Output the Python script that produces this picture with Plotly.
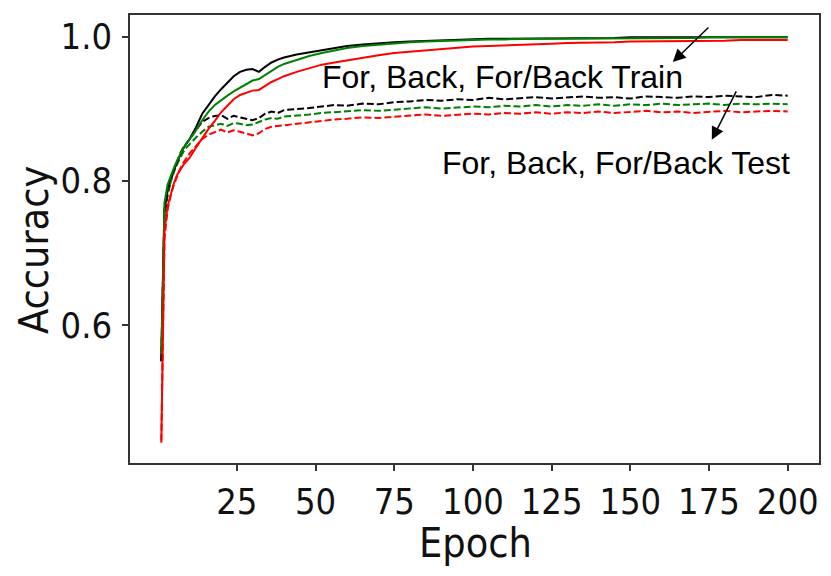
import plotly.graph_objects as go

epochs = [1, 2, 3, 4, 5, 6, 7, 8, 9, 10,
          12, 14, 16, 18, 20, 22, 24, 26, 28, 30, 32, 34, 36, 38, 40,
          44, 48, 52, 56, 60,
          65, 70, 75, 80, 85, 90, 95, 100, 105, 110, 115, 120, 125, 130,
          135, 140, 145, 150, 155, 160, 165, 170, 175, 180, 185, 190, 195, 200]

for_train = [0.550, 0.760, 0.790, 0.805, 0.815, 0.826, 0.836, 0.845, 0.852, 0.858,
             0.874, 0.893, 0.905, 0.917, 0.927, 0.936, 0.945, 0.951, 0.954, 0.955,
             0.951, 0.958, 0.964, 0.968, 0.971,
             0.975, 0.978, 0.982, 0.985, 0.987,
             0.989, 0.991, 0.992, 0.993, 0.994, 0.995, 0.996, 0.996, 0.997, 0.997,
             0.997, 0.998, 0.998, 0.998, 0.998, 0.998, 0.998, 0.999, 0.999, 0.999,
             0.999, 0.999, 0.999, 0.999, 0.999, 0.999, 0.999, 0.999]

back_train = [0.560, 0.770, 0.795, 0.808, 0.818, 0.828, 0.837, 0.845, 0.852, 0.858,
              0.870, 0.884, 0.896, 0.905, 0.912, 0.918, 0.924, 0.929, 0.934, 0.939,
              0.941, 0.947, 0.953, 0.958, 0.962,
              0.968, 0.973, 0.977, 0.981, 0.984,
              0.987, 0.989, 0.991, 0.992, 0.993, 0.994, 0.995, 0.996, 0.996, 0.996,
              0.997, 0.997, 0.997, 0.997, 0.998, 0.998, 0.998, 0.998, 0.998, 0.998,
              0.998, 0.998, 0.999, 0.999, 0.999, 0.999, 0.999, 0.999]

forback_train = [0.437, 0.730, 0.765, 0.783, 0.797, 0.808, 0.816, 0.822, 0.827, 0.832,
                 0.846, 0.859, 0.872, 0.883, 0.895, 0.904, 0.913, 0.919, 0.922, 0.925,
                 0.926, 0.932, 0.937, 0.941, 0.945,
                 0.951, 0.956, 0.961, 0.964, 0.967,
                 0.971, 0.974, 0.977, 0.979, 0.981, 0.983, 0.985, 0.986, 0.987, 0.988,
                 0.989, 0.990, 0.990, 0.991, 0.991, 0.992, 0.992, 0.993, 0.993, 0.993,
                 0.994, 0.994, 0.994, 0.994, 0.995, 0.995, 0.995, 0.995]

for_test = [0.550, 0.750, 0.780, 0.800, 0.815, 0.828, 0.838, 0.846, 0.852, 0.857,
            0.870, 0.882, 0.887, 0.890, 0.891, 0.886, 0.890, 0.888, 0.885, 0.884,
            0.887, 0.893, 0.896, 0.894, 0.898,
            0.899, 0.901, 0.903, 0.905, 0.904,
            0.907, 0.906, 0.909, 0.910, 0.912, 0.911, 0.913, 0.912, 0.915, 0.913,
            0.914, 0.916, 0.914, 0.915, 0.917, 0.915, 0.916, 0.914, 0.917, 0.916,
            0.915, 0.917, 0.916, 0.918, 0.917, 0.916, 0.919, 0.918]

back_test = [0.560, 0.760, 0.785, 0.800, 0.812, 0.823, 0.832, 0.840, 0.846, 0.851,
             0.860, 0.868, 0.875, 0.877, 0.879, 0.876, 0.880, 0.879, 0.877, 0.878,
             0.882, 0.885, 0.887, 0.886, 0.889,
             0.890, 0.892, 0.894, 0.895, 0.896,
             0.898, 0.897, 0.899, 0.900, 0.902, 0.900, 0.902, 0.903, 0.902, 0.904,
             0.903, 0.905, 0.903, 0.905, 0.904, 0.906, 0.904, 0.906, 0.905, 0.907,
             0.905, 0.906, 0.907, 0.905, 0.907, 0.906, 0.907, 0.906]

forback_test = [0.440, 0.720, 0.760, 0.780, 0.795, 0.807, 0.817, 0.825, 0.832, 0.838,
                0.848, 0.858, 0.864, 0.868, 0.871, 0.867, 0.870, 0.868, 0.866, 0.863,
                0.866, 0.872, 0.875, 0.876, 0.878,
                0.880, 0.882, 0.884, 0.885, 0.886,
                0.888, 0.887, 0.889, 0.890, 0.892, 0.890, 0.892, 0.893, 0.892, 0.894,
                0.893, 0.895, 0.893, 0.895, 0.894, 0.896, 0.894, 0.895, 0.897, 0.895,
                0.896, 0.894, 0.896, 0.897, 0.895, 0.896, 0.897, 0.896]

x_ticks = [25, 50, 75, 100, 125, 150, 175, 200]
y_ticks = [0.6, 0.8, 1.0]
y_tick_labels = ["0.6", "0.8", "1.0"]

x_title = "Epoch"
y_title = "Accuracy"
train_label = "For, Back, For/Back Train"
test_label = "For, Back, For/Back Test"

GREEN = "#008000"
series = [
    ("For test", for_test, "black", "7px,3px"),
    ("Back test", back_test, GREEN, "7px,3px"),
    ("For/Back test", forback_test, "#ff0000", "7px,3px"),
    ("For train", for_train, "black", "solid"),
    ("Back train", back_train, GREEN, "solid"),
    ("For/Back train", forback_train, "#ff0000", "solid"),
]

fig = go.Figure()
for name, vals, col, dash in series:
    fig.add_trace(go.Scatter(x=epochs, y=vals, mode="lines", name=name,
                             line=dict(color=col, width=2, dash=dash)))

FAM = "DejaVu Sans Condensed, DejaVu Sans"
TICKFONT = dict(family=FAM, size=36, color="#111")
TITLEFONT = dict(family=FAM, size=41, color="#111")

# the page body has an 8px default margin, so the figure starts at (8, 8)
OFF = 8
W, H = 831 - OFF, 576 - OFF
fig.update_layout(
    width=W, height=H,
    margin=dict(l=130 - OFF, r=12, t=15 - OFF, b=113),
    paper_bgcolor="white", plot_bgcolor="white",
    showlegend=False,
    xaxis=dict(range=[-8.95, 209.95], tickvals=x_ticks, ticks="outside", ticklen=6,
               tickwidth=1.5, tickcolor="#333", showline=True, linecolor="#333",
               linewidth=1.5, mirror=True, showgrid=False, zeroline=False,
               tickfont=TICKFONT, automargin=False),
    yaxis=dict(range=[0.409, 1.0298], tickvals=y_ticks, ticktext=y_tick_labels,
               ticks="outside", ticklen=6, tickwidth=1.5, tickcolor="#333",
               showline=True, linecolor="#333", linewidth=1.5, mirror=True,
               showgrid=False, zeroline=False, tickfont=TICKFONT, automargin=False,
               ticklabelstandoff=3),
)

fig.add_annotation(x=475, y=543, xref="paper", yref="paper", text=x_title,
                   showarrow=False, font=TITLEFONT, xanchor="center", yanchor="middle",
                   borderpad=0)
fig.add_annotation(x=34, y=250, xref="paper", yref="paper", text=y_title, textangle=-90,
                   showarrow=False, font=TITLEFONT, xanchor="center", yanchor="middle",
                   borderpad=0)

ANN_FONT = dict(family="Liberation Sans, Arial", size=32, color="black")
fig.add_annotation(x=109.4, y=0.944, xref="x", yref="y", text=train_label,
                   showarrow=False, font=ANN_FONT, xanchor="center", yanchor="middle")
fig.add_annotation(x=145.4, y=0.825, xref="x", yref="y", text=test_label,
                   showarrow=False, font=ANN_FONT, xanchor="center", yanchor="middle")
fig.add_annotation(x=163.5, y=0.9647, ax=175.3, ay=1.0145, xref="x", yref="y",
                   axref="x", ayref="y", text="", showarrow=True, arrowhead=2,
                   arrowsize=1.7, arrowwidth=1.5, arrowcolor="black")
fig.add_annotation(x=175.9, y=0.8568, ax=183.9, ay=0.926, xref="x", yref="y",
                   axref="x", ayref="y", text="", showarrow=True, arrowhead=2,
                   arrowsize=1.7, arrowwidth=1.5, arrowcolor="black")


def px_to_paper(fig):
    # convert window-pixel placed title annotations to paper coordinates
    m = fig.layout.margin
    pw = fig.layout.width - m.l - m.r
    ph = fig.layout.height - m.t - m.b
    for a in fig.layout.annotations:
        if a.xref == "paper":
            a.x = (a.x - OFF - m.l) / pw
            a.y = (fig.layout.height - m.b - (a.y - OFF)) / ph


px_to_paper(fig)
fig.write_html("out.html")
